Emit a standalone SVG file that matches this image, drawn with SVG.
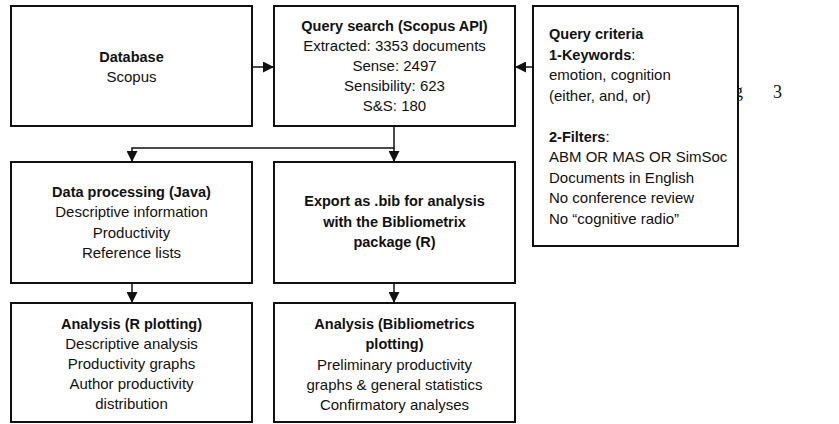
<svg xmlns="http://www.w3.org/2000/svg" width="839" height="424" viewBox="0 0 839 424">
<defs>
<style>
.box{fill:#fff;stroke:#111;stroke-width:2}
.t{font-family:"Liberation Sans",Arial,sans-serif;font-size:15px;fill:#111;text-anchor:middle}
.l{font-family:"Liberation Sans",Arial,sans-serif;font-size:15px;fill:#111}
.b{font-weight:bold;font-size:14.5px}
.c{fill:none;stroke:#111;stroke-width:1.5}
.s{font-family:"Liberation Serif","Times New Roman",serif;font-size:18px;fill:#111}
</style>
<marker id="ah" viewBox="0 0 10 10" refX="10" refY="5" markerWidth="11" markerHeight="11" markerUnits="userSpaceOnUse" orient="auto">
<path d="M0,0 L10,5 L0,10 Z" fill="#111"/>
</marker>
</defs>
<rect width="839" height="424" fill="#fff"/>
<text class="s" x="734" y="97">g</text>
<text class="s" x="773" y="98">3</text>
<g id="connectors">
<line class="c" x1="252" y1="67" x2="274" y2="67" marker-end="url(#ah)"/>
<line class="c" x1="533" y1="67" x2="515" y2="67" marker-end="url(#ah)"/>
<polyline class="c" points="394,126 394,148 132,148 132,162" marker-end="url(#ah)"/>
<line class="c" x1="394" y1="148" x2="394" y2="162" marker-end="url(#ah)"/>
<line class="c" x1="132" y1="283" x2="132" y2="303" marker-end="url(#ah)"/>
<line class="c" x1="394" y1="283" x2="394" y2="303" marker-end="url(#ah)"/>
</g>
<g id="database">
<rect class="box" x="11" y="6" width="241" height="120"/>
<text class="t b" x="131.5" y="61.5">Database</text>
<text class="t" x="131.5" y="81.5">Scopus</text>
</g>
<g id="query-search">
<rect class="box" x="274" y="6" width="241" height="120"/>
<text class="t b" x="394.5" y="31">Query search (Scopus API)</text>
<text class="t" x="394.5" y="51">Extracted: 3353 documents</text>
<text class="t" x="394.5" y="71">Sense: 2497</text>
<text class="t" x="394.5" y="91">Sensibility: 623</text>
<text class="t" x="394.5" y="111">S&amp;S: 180</text>
</g>
<g id="query-criteria">
<rect class="box" x="533" y="6" width="205" height="240"/>
<text class="l b" x="549" y="39">Query criteria</text>
<text class="l" x="549" y="59.5"><tspan class="b">1-Keywords</tspan>:</text>
<text class="l" x="549" y="80">emotion, cognition</text>
<text class="l" x="549" y="100.5">(either, and, or)</text>
<text class="l" x="549" y="141.5"><tspan class="b">2-Filters</tspan>:</text>
<text class="l" x="549" y="162">ABM OR MAS OR SimSoc</text>
<text class="l" x="549" y="182.5">Documents in English</text>
<text class="l" x="549" y="203">No conference review</text>
<text class="l" x="549" y="223.5">No “cognitive radio”</text>
</g>
<g id="data-processing">
<rect class="box" x="11" y="162" width="241" height="121"/>
<text class="t b" x="131.5" y="197">Data processing (Java)</text>
<text class="t" x="131.5" y="217">Descriptive information</text>
<text class="t" x="131.5" y="237.5">Productivity</text>
<text class="t" x="131.5" y="258">Reference lists</text>
</g>
<g id="export">
<rect class="box" x="274" y="162" width="241" height="121"/>
<text class="t b" x="394.5" y="206">Export as .bib for analysis</text>
<text class="t b" x="394.5" y="226.5">with the Bibliometrix</text>
<text class="t b" x="394.5" y="247">package (R)</text>
</g>
<g id="analysis-r">
<rect class="box" x="11" y="303" width="241" height="119"/>
<text class="t b" x="131.5" y="329">Analysis (R plotting)</text>
<text class="t" x="131.5" y="349">Descriptive analysis</text>
<text class="t" x="131.5" y="369">Productivity graphs</text>
<text class="t" x="131.5" y="389">Author productivity</text>
<text class="t" x="131.5" y="409">distribution</text>
</g>
<g id="analysis-bibliometrics">
<rect class="box" x="274" y="303" width="241" height="119"/>
<text class="t b" x="394.5" y="329">Analysis (Bibliometrics</text>
<text class="t b" x="394.5" y="349">plotting)</text>
<text class="t" x="394.5" y="369.5">Preliminary productivity</text>
<text class="t" x="394.5" y="389.5">graphs &amp; general statistics</text>
<text class="t" x="394.5" y="409.5">Confirmatory analyses</text>
</g>
</svg>
